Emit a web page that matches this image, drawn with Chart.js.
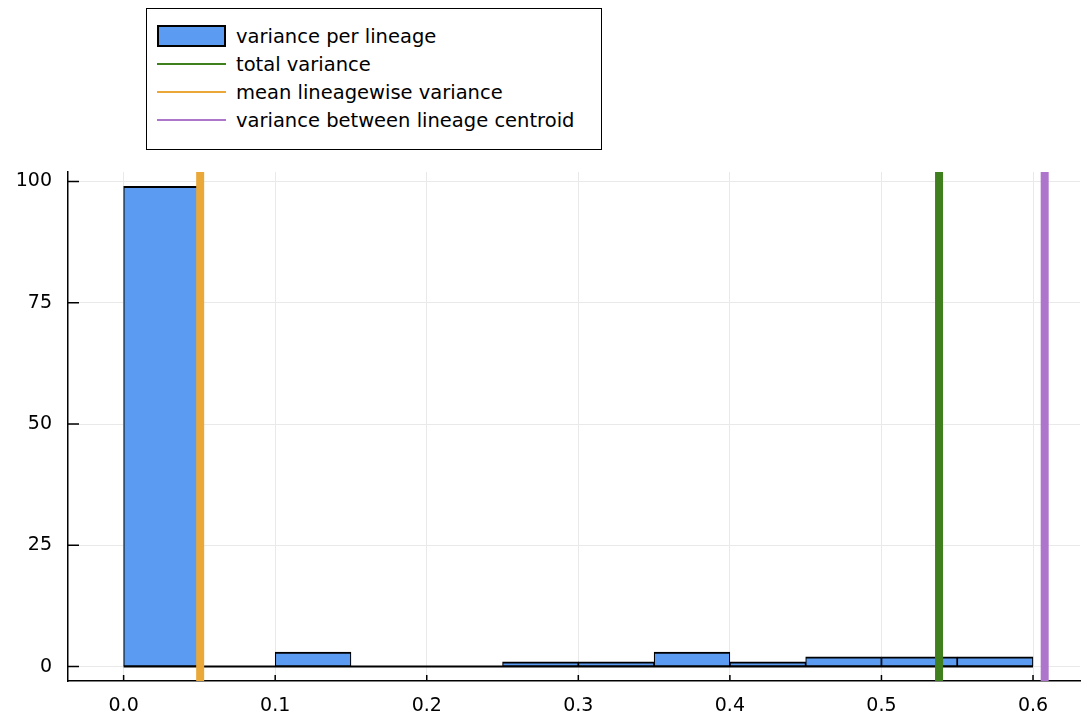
<!DOCTYPE html>
<html>
<head>
<meta charset="utf-8">
<script src="https://cdn.jsdelivr.net/npm/chart.js@4.4.1/dist/chart.umd.min.js"></script>
<style>
  body { margin: 0; background: #fff; }
  #wrap { position: relative; width: 1081px; height: 714px; }
  #myChart { position: absolute; left: 0; top: 0; }
  #legend {
    position: absolute; left: 146px; top: 8px; width: 456px; height: 142px;
    box-sizing: border-box; border: 1.5px solid #000; background: #fff;
    padding: 13px 0 0 10px; font-family: 'DejaVu Sans'; font-size: 19.5px; color: #000;
  }
  .row { display: flex; align-items: center; height: 28px; }
  .sw { width: 69px; margin-right: 10px; box-sizing: border-box; }
</style>
</head>
<body>
<div id="wrap">
  <canvas id="myChart" width="1081" height="714"></canvas>
  <div id="legend"></div>
</div>
<script>
// histogram bins
const binEdges = [0.0, 0.05, 0.1, 0.15, 0.2, 0.25, 0.3, 0.35, 0.4, 0.45, 0.5, 0.55, 0.6]
const binCounts = [99, 0, 3, 0, 0, 1, 1, 3, 1, 2, 2, 2]

// vertical reference lines
const lineNames = ['total variance', 'mean lineagewise variance', 'variance between lineage centroid']
const lineValues = [0.538, 0.0505, 0.6077]
const lineColors = ['#3f7f1e', '#e9a838', '#ae75cc']

// axes
const xTicks = [0.0, 0.1, 0.2, 0.3, 0.4, 0.5, 0.6]
const yTicks = [0, 25, 50, 75, 100]
const xMin = -0.0367, xMax = 0.631
const yMin = -2.97, yMax = 101.97

const barColor = '#5b9cf2'

Chart.defaults.font.family = 'DejaVu Sans'
Chart.defaults.color = '#000'

// GR style ticks pointing into the plot
const innerTicks = {
    id: 'innerTicks',
    afterDatasetsDraw(chart) {
        const { ctx, chartArea: a, scales: { x, y } } = chart
        ctx.save()
        ctx.strokeStyle = '#000'
        ctx.lineWidth = 1.5
        ctx.beginPath()
        x.ticks.forEach(t => {
            const p = x.getPixelForValue(t.value)
            ctx.moveTo(p, a.bottom)
            ctx.lineTo(p, a.bottom - 6)
        })
        y.ticks.forEach(t => {
            const p = y.getPixelForValue(t.value)
            ctx.moveTo(a.left, p)
            ctx.lineTo(a.left + 11, p)
        })
        ctx.stroke()
        ctx.restore()
    }
}

const datasets = [
    {
        type: 'bar',
        label: 'variance per lineage',
        data: binCounts.map((c, i) => ({ x: (binEdges[i] + binEdges[i + 1]) / 2, y: c })),
        backgroundColor: barColor,
        borderColor: '#000',
        borderWidth: { top: 2, left: 1.2, right: 1.2, bottom: 1 },
        borderSkipped: false,
        barPercentage: 1,
        categoryPercentage: 1,
        order: 3,
    },
    {
        type: 'line',
        label: 'baseline',
        data: [{ x: binEdges[0], y: 0 }, { x: binEdges[binEdges.length - 1], y: 0 }],
        borderColor: '#000',
        borderWidth: 2,
        pointRadius: 0,
        order: 2,
    },
    ...lineValues.map((v, i) => ({
        type: 'line',
        label: lineNames[i],
        data: [{ x: v, y: yMin }, { x: v, y: yMax }],
        borderColor: lineColors[i],
        borderWidth: 8,
        pointRadius: 0,
        order: 1,
    })),
]

const grid = { color: '#e9e9e9', lineWidth: 1, drawTicks: false, offset: false }
const border = { color: '#000', width: 1.5 }

new Chart(document.getElementById('myChart'), {
    type: 'bar',
    data: { datasets },
    options: {
        responsive: false,
        animation: false,
        layout: { padding: { top: 172, right: 1, left: 0, bottom: 0 } },
        plugins: { legend: { display: false }, tooltip: { enabled: false } },
        scales: {
            x: {
                type: 'linear', min: xMin, max: xMax, offset: false,
                afterBuildTicks: s => { s.ticks = xTicks.map(v => ({ value: v })) },
                afterFit: s => { s.height = 33 },
                ticks: { callback: v => v.toFixed(1), font: { size: 19 }, padding: 14, maxRotation: 0, autoSkip: false },
                grid, border,
            },
            y: {
                type: 'linear', min: yMin, max: yMax,
                afterBuildTicks: s => { s.ticks = yTicks.map(v => ({ value: v })) },
                afterFit: s => { s.width = 68 },
                ticks: { font: { size: 19 }, padding: 16, autoSkip: false },
                grid, border,
            },
        },
    },
    plugins: [innerTicks],
})

// legend box (vertical, framed, above the plot)
const legend = document.getElementById('legend')
const items = [{ name: datasets[0].label, bar: true }].concat(lineNames.map((n, i) => ({ name: n, color: lineColors[i] })))
items.forEach(it => {
    const row = document.createElement('div')
    row.className = 'row'
    const sw = document.createElement('span')
    sw.className = 'sw'
    if (it.bar) {
        sw.style.height = '22px'
        sw.style.background = barColor
        sw.style.border = '2px solid #000'
    } else {
        sw.style.height = '2px'
        sw.style.background = it.color
    }
    const txt = document.createElement('span')
    txt.textContent = it.name
    row.appendChild(sw)
    row.appendChild(txt)
    legend.appendChild(row)
})
</script>
</body>
</html>
